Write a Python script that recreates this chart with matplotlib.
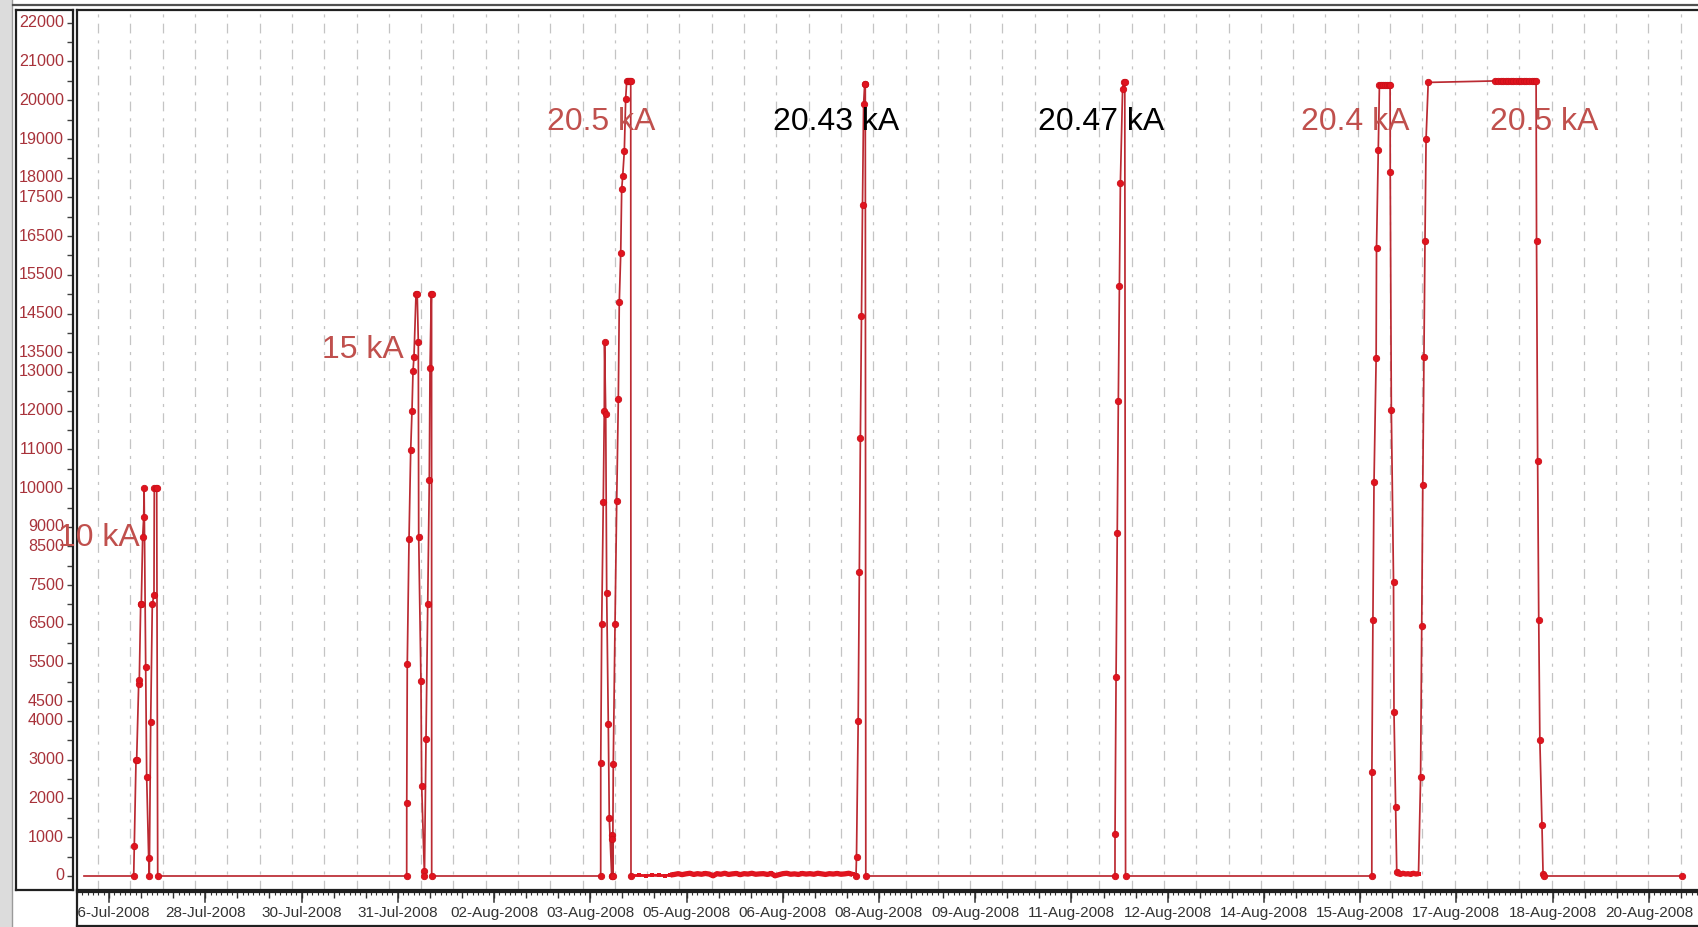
import numpy as np
import matplotlib
matplotlib.use("Agg")
import matplotlib.pyplot as plt
import matplotlib.transforms as mtransforms
from matplotlib.lines import Line2D
from matplotlib.patches import Rectangle

plt.rcParams['font.family'] = ['Liberation Sans', 'DejaVu Sans']
plt.rcParams['lines.scale_dashes'] = False

# ---------------------------------------------------------------------------
# Magnet current log.  Time in days since 26-Jul-2008 00:00, current in A.
# ---------------------------------------------------------------------------
log_start_t, log_start_a = 0.282, 0
log_end_t, log_end_a = 25.015, 0

# first powering, up to 10 kA (two ramps)
ep1_t = [1.051, 1.060, 1.087, 1.097, 1.128, 1.138, 1.159, 1.169, 1.190, 1.206,
         1.212, 1.237, 1.252, 1.283, 1.293, 1.314, 1.339, 1.365, 1.370, 1.392,
         1.407, 1.423]
ep1_a = [0, 780, 3000, 3000, 4950, 5050, 7000, 7000, 8750, 9250,
         10000, 5400, 2550, 460, 0, 3980, 7000, 7250, 10000, 10000,
         10000, 0]

# ramps to 15 kA
ep2_t = [5.277, 5.278, 5.286, 5.313, 5.339, 5.359, 5.375, 5.390, 5.421, 5.440,
         5.457, 5.463, 5.498, 5.509, 5.549, 5.552, 5.576, 5.602, 5.627, 5.638,
         5.658, 5.662, 5.664]
ep2_a = [0, 1880, 5460, 8680, 10980, 11990, 13030, 13390, 15000, 15000,
         13760, 8735, 5020, 2320, 130, 0, 3540, 7000, 10210, 13090,
         15000, 15000, 0]

# ramps to 20.5 kA
ep3_t = [8.280, 8.281, 8.296, 8.320, 8.336, 8.340, 8.358, 8.373, 8.398, 8.413,
         8.450, 8.454, 8.457, 8.461, 8.465, 8.475, 8.502, 8.528, 8.553, 8.568,
         8.590, 8.605, 8.621, 8.646, 8.667, 8.683, 8.700, 8.715, 8.734, 8.745,
         8.749]
ep3_a = [0, 2925, 6500, 9630, 12000, 13760, 11900, 7295, 3915, 1500,
         0, 1050, 0, 950, 0, 2895, 6500, 9670, 12290, 14800,
         16050, 17700, 18045, 18700, 20040, 20500, 20500, 20500, 20500, 20500,
         0]

# low-level readings between 05-Aug and 08-Aug
noise_t = [8.78, 8.88, 8.98, 9.08, 9.18, 9.28, 9.36, 9.42, 9.48, 9.54,
           9.60, 9.66, 9.72, 9.78, 9.84, 9.90, 9.96, 10.02, 10.08, 10.14,
           10.20, 10.26, 10.32, 10.38, 10.44, 10.50, 10.56, 10.62, 10.68, 10.74,
           10.80, 10.86, 10.92, 10.98, 11.04, 11.10, 11.16, 11.22, 11.28, 11.34,
           11.40, 11.46, 11.52, 11.58, 11.64, 11.70, 11.76, 11.82, 11.88, 11.94,
           12.00, 12.06, 12.12, 12.18]
noise_a = [10, 15, 10, 20, 15, 10, 25, 40, 60, 35,
           55, 70, 40, 60, 45, 65, 50, 5, 60, 45,
           70, 40, 55, 65, 35, 60, 50, 70, 45, 55,
           60, 40, 65, 5, 35, 60, 70, 45, 55, 40,
           65, 50, 60, 45, 70, 55, 40, 60, 50, 65,
           45, 55, 70, 40]

# ramp to 20.43 kA
ep4_t = [12.232, 12.240, 12.266, 12.283, 12.300, 12.317, 12.333, 12.350, 12.367,
         12.376, 12.384]
ep4_a = [0, 500, 4000, 7830, 11300, 14450, 17300, 19900, 20430,
         20430, 0]

# ramp to 20.47 kA
ep5_t = [16.241, 16.242, 16.258, 16.276, 16.293, 16.310, 16.325, 16.359, 16.376,
         16.393, 16.405]
ep5_a = [0, 1090, 5130, 8840, 12240, 15220, 17870, 20300, 20470,
         20470, 0]

# ramp to 20.4 kA
ep6a_t = [20.217, 20.218, 20.234, 20.251, 20.284, 20.290, 20.318, 20.335, 20.36, 20.39,
          20.42, 20.45, 20.48, 20.50, 20.502, 20.519, 20.553, 20.560, 20.586, 20.603]
ep6a_a = [0, 2680, 6600, 10150, 13350, 16200, 18730, 20400, 20400, 20400,
          20400, 20400, 20400, 20400, 18150, 12020, 7580, 4240, 1785, 110]

# standby readings after the 20.4 kA ramp
hold_t = [20.62, 20.66, 20.70, 20.74, 20.78, 20.82, 20.86, 20.90, 20.94]
hold_a = [60, 40, 70, 50, 60, 40, 70, 50, 60]

# long flat top at 20.5 kA
ep6b_t = [20.972, 20.989, 21.006, 21.023, 21.040, 21.057, 21.090,
          22.13, 22.17, 22.21, 22.25, 22.29, 22.33, 22.37, 22.41, 22.45,
          22.49, 22.53, 22.57, 22.61, 22.65, 22.69, 22.73, 22.76,
          22.767, 22.784, 22.801, 22.818, 22.851, 22.868, 22.875]
ep6b_a = [2540, 6440, 10090, 13380, 16360, 19010, 20460,
          20500, 20500, 20500, 20500, 20500, 20500, 20500, 20500, 20500,
          20500, 20500, 20500, 20500, 20500, 20500, 20500, 20500,
          16360, 10700, 6600, 3510, 1310, 50, 0]

# axis labelling
y_tick_values = [0, 1000, 2000, 3000, 4000, 4500, 5500, 6500, 7500, 8500, 9000,
                 10000, 11000, 12000, 13000, 13500, 14500, 15500, 16500, 17500,
                 18000, 19000, 20000, 21000, 22000]
x_tick_labels = ["26-Jul-2008", "28-Jul-2008", "30-Jul-2008", "31-Jul-2008",
                 "02-Aug-2008", "03-Aug-2008", "05-Aug-2008", "06-Aug-2008",
                 "08-Aug-2008", "09-Aug-2008", "11-Aug-2008", "12-Aug-2008",
                 "14-Aug-2008", "15-Aug-2008", "17-Aug-2008", "18-Aug-2008",
                 "20-Aug-2008"]
x_tick_first, x_tick_step = 0.5, 1.5

annotations = [("10 kA", 99, 546, '#c0504d'),
               ("15 kA", 363, 358, '#c0504d'),
               ("20.5 kA", 601, 130, '#c0504d'),
               ("20.43 kA", 836, 130, 'black'),
               ("20.47 kA", 1101, 130, 'black'),
               ("20.4 kA", 1355, 130, '#c0504d'),
               ("20.5 kA", 1544, 130, '#c0504d')]

# ---------------------------------------------------------------------------
series_t = np.concatenate([[log_start_t], ep1_t, ep2_t, ep3_t, noise_t, ep4_t,
                           ep5_t, ep6a_t, hold_t, ep6b_t, [log_end_t]])
series_a = np.concatenate([[log_start_a], ep1_a, ep2_a, ep3_a, noise_a, ep4_a,
                           ep5_a, ep6a_a, hold_a, ep6b_a, [log_end_a]])
big_t = np.concatenate([ep1_t, ep2_t, ep3_t, ep4_t, ep5_t, ep6a_t, ep6b_t, [log_end_t]])
big_a = np.concatenate([ep1_a, ep2_a, ep3_a, ep4_a, ep5_a, ep6a_a, ep6b_a, [log_end_a]])

W, H = 1699, 927
fig = plt.figure(figsize=(W / 100, H / 100), dpi=100)
fig.patch.set_facecolor('white')


def frac(x0, y0, x1, y1):
    return [x0 / W, 1 - y1 / H, (x1 - x0) / W, (y1 - y0) / H]


PX_PER_DAY = 64.6
T_AT_195 = 2.0
XMIN = T_AT_195 + (77 - 195) / PX_PER_DAY
XMAX = T_AT_195 + (1704 - 195) / PX_PER_DAY
YMIN, YMAX = -361, 22327

# window chrome
fig.add_artist(Rectangle((0, 0), 12 / W, 1, transform=fig.transFigure,
                         facecolor='#dcdcdc', edgecolor='none'))
fig.add_artist(Line2D([12.5 / W, 12.5 / W], [0, 1], transform=fig.transFigure,
                      color='#9a9a9a', lw=1.0))
fig.add_artist(Line2D([13 / W, 1], [1 - 5 / H, 1 - 5 / H], transform=fig.transFigure,
                      color='#505050', lw=1.6))

# plot area
ax = fig.add_axes(frac(77, 10, 1704, 890))
ax.set_xlim(XMIN, XMAX)
ax.set_ylim(YMIN, YMAX)
ax.set_xticks([])
ax.set_yticks([])
for s in ax.spines.values():
    s.set_color('#202020')
    s.set_linewidth(1.6)

for g in np.arange(0.5, XMAX, 0.5):
    ax.axvline(g, color='#c4c4c4', lw=0.9, dashes=(7, 4.5, 2.2, 5), zorder=1)

ax.plot(series_t, series_a, color='#bb2a32', lw=1.25, zorder=3,
        solid_joinstyle='miter')
ax.plot(big_t, big_a, ls='none', marker='o', ms=4.6, mfc='#e0141f',
        mec='#cc1019', mew=0.6, zorder=4)
# dense low-level readings drawn as a heavy trace
for tt, aa, w in ((noise_t[:7], noise_a[:7], 2.0), (noise_t[6:], noise_a[6:], 3.8),
                  (hold_t, hold_a, 3.8)):
    ax.plot(tt, aa, color='#e0141f', lw=w, marker='s', ms=2.6, mew=0,
            solid_capstyle='butt', zorder=4)

# y scale box
axy = fig.add_axes(frac(16, 10, 73, 890))
axy.set_ylim(YMIN, YMAX)
axy.set_xticks([])
axy.set_yticks(np.arange(0, 22001, 500))
axy.yaxis.tick_right()
axy.tick_params(axis='y', direction='in', length=4, width=1, color='#404040',
                labelright=False, labelleft=False)
for s in axy.spines.values():
    s.set_color('#202020')
    s.set_linewidth(1.6)
ytr = mtransforms.blended_transform_factory(axy.transAxes, axy.transData)
for v in y_tick_values:
    axy.text(1 - 9 / 57, v, str(v), transform=ytr, ha='right', va='center',
             fontsize=11.6, color='#a8323a')

# time scale box
axx = fig.add_axes(frac(77, 892, 1704, 926))
axx.set_xlim(XMIN, XMAX)
axx.set_ylim(0, 1)
axx.set_yticks([])
axx.xaxis.tick_top()
axx.set_xticks(np.arange(0.5, XMAX, 0.5))
axx.set_xticks(np.arange(0.0, XMAX, 1 / 12), minor=True)
axx.tick_params(axis='x', which='major', direction='in', length=4.5, width=1,
                color='#303030', labeltop=False, labelbottom=False)
axx.tick_params(axis='x', which='minor', direction='in', length=2.3, width=0.8,
                color='#303030')
for s in axx.spines.values():
    s.set_color('#202020')
    s.set_linewidth(1.6)
xtr = mtransforms.blended_transform_factory(axx.transData, axx.transAxes)
for i, lab in enumerate(x_tick_labels):
    t = x_tick_first + i * x_tick_step
    axx.add_line(Line2D([t, t], [1, 1 - 10 / 34], transform=xtr, color='#303030', lw=1.1))
    txt = axx.text(t, 1 - 21 / 34, lab, transform=xtr, ha='center', va='center',
                   fontsize=11, color='#333333')
    txt.set_clip_box(axx.bbox)
    txt.set_clip_on(True)

# episode annotations
for s, x, y, c in annotations:
    fig.text(x / W, 1 - y / H, s, ha='center', va='baseline', fontsize=23, color=c)

fig.savefig('out.png', dpi=100, facecolor=fig.get_facecolor())
